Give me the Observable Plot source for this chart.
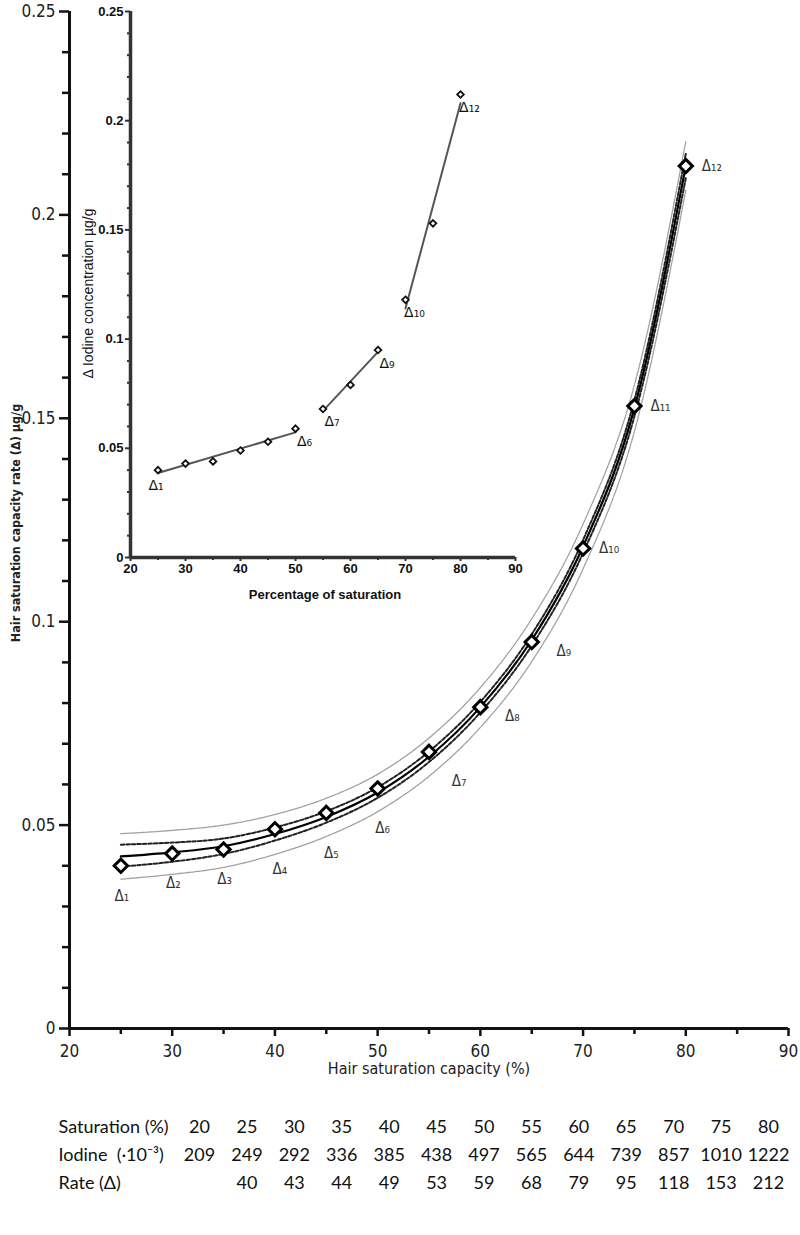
<!DOCTYPE html>
<html><head><meta charset="utf-8">
<script src="https://cdn.jsdelivr.net/npm/d3@7"></script>
<script src="https://cdn.jsdelivr.net/npm/@observablehq/plot@0.6"></script>
<style>
body{margin:0;background:#fff;}
#wrap{position:relative;width:800px;height:1235px;overflow:hidden;}
#main,#inset,#table{position:absolute;left:0;}
#main{top:0}
#inset{top:0}
#table{top:1090px}
</style></head><body><div id="wrap"><div id="main"></div><div id="inset"></div><div id="table"></div></div>
<script>
// ---------- data ----------
const pointX   = [25, 30, 35, 40, 45, 50, 55, 60, 65, 70, 75, 80];
const rate     = [0.040, 0.043, 0.044, 0.049, 0.053, 0.059, 0.068, 0.079, 0.095, 0.118, 0.153, 0.212];
const deltaLbl = ["Δ₁","Δ₂","Δ₃","Δ₄","Δ₅","Δ₆","Δ₇","Δ₈","Δ₉","Δ₁₀","Δ₁₁","Δ₁₂"];
const fitGroup = ["a","a","a","a","a","a","b","b","b","c","c","c"];
// fitted curve and bands
const fitted   = [0.0423, 0.0433, 0.0448, 0.0478, 0.0520, 0.0580, 0.0668, 0.0790, 0.0955, 0.1185, 0.1525, 0.2120];
const ciHi     = [0.0452, 0.0457, 0.0467, 0.0494, 0.0534, 0.0593, 0.0681, 0.0803, 0.0969, 0.1201, 0.1545, 0.2150];
const ciLo     = [0.0398, 0.0410, 0.0429, 0.0462, 0.0506, 0.0567, 0.0655, 0.0777, 0.0941, 0.1169, 0.1505, 0.2090];
const predHi   = [0.0479, 0.0487, 0.0500, 0.0526, 0.0566, 0.0625, 0.0714, 0.0838, 0.1007, 0.1240, 0.1582, 0.2180];
const predLo   = [0.0367, 0.0379, 0.0396, 0.0428, 0.0472, 0.0533, 0.0620, 0.0740, 0.0902, 0.1130, 0.1468, 0.2060];
// inset labelled points
const insetLabelled = ["Δ₁","Δ₆","Δ₇","Δ₉","Δ₁₀","Δ₁₂"];
// axis ticks
const yMajor = [0, 0.05, 0.1, 0.15, 0.2, 0.25];
const yMinor = [0.01,0.02,0.03,0.04,0.06,0.07,0.08,0.09,0.11,0.12,0.13,0.14,0.16,0.17,0.18,0.19,0.21,0.22,0.23,0.24];
const xMajor = [20, 30, 40, 50, 60, 70, 80, 90];
const xMinor = [25, 35, 45, 55, 65, 75, 85];
// table
const saturation = [20, 25, 30, 35, 40, 45, 50, 55, 60, 65, 70, 75, 80];
const iodine     = [209, 249, 292, 336, 385, 438, 497, 565, 644, 739, 857, 1010, 1222];
const rateMilli  = [null, 40, 43, 44, 49, 53, 59, 68, 79, 95, 118, 153, 212];
const rowNames   = ["Saturation (%)", "Iodine  (·10⁻³)", "Rate (Δ)"];

// ---------- build ----------
const pts = pointX.map((x, i) => ({x, y: rate[i], label: deltaLbl[i], g: fitGroup[i], i}));
const band = pointX.map((x, i) => ({x, fit: fitted[i], ciHi: ciHi[i], ciLo: ciLo[i], predHi: predHi[i], predLo: predLo[i]}));

const mainFont = "'DejaVu Sans Condensed','DejaVu Sans',sans-serif";
const insetFont = "'Liberation Sans',Arial,sans-serif";

function mainLabels(from, to, dx, dy) {
  return Plot.text(pts.filter(d => d.i >= from && d.i <= to), {
    x: "x", y: "y", text: "label", dx, dy, fontSize: 15, fill: "#333", fontFamily: mainFont, textAnchor: "middle"
  });
}

const main = Plot.plot({
  width: 800, height: 1090,
  marginLeft: 69, marginRight: 12, marginTop: 11, marginBottom: 62,
  style: {fontFamily: mainFont, background: "transparent", color: "#111", overflow: "visible"},
  x: {domain: [20, 90], axis: null},
  y: {domain: [0, 0.25], axis: null},
  marks: [
    Plot.axisY(yMajor, {tickSize: 10, tickPadding: 4, fontSize: 17, strokeWidth: 2.5, tickFormat: d => String(d), label: null, fill: "#222"}),
    Plot.axisY(yMinor, {tickSize: 7, tickFormat: () => "", strokeWidth: 2.5, label: null}),
    Plot.axisX(xMajor, {tickSize: 8, tickPadding: 8, fontSize: 17, strokeWidth: 2.5, tickFormat: d => String(d), label: null, fill: "#222"}),
    Plot.axisX(xMinor, {tickSize: 6, tickFormat: () => "", strokeWidth: 2.5, label: null}),
    Plot.ruleX([20], {y1: 0, y2: 0.25, stroke: "#111", strokeWidth: 3}),
    Plot.ruleY([0], {x1: 20, x2: 90, stroke: "#111", strokeWidth: 3}),
    Plot.line(band, {x: "x", y: "predHi", stroke: "#a0a0a0", strokeWidth: 1.3, strokeDasharray: "2,1", curve: "monotone-x"}),
    Plot.line(band, {x: "x", y: "predLo", stroke: "#a0a0a0", strokeWidth: 1.3, strokeDasharray: "2,1", curve: "monotone-x"}),
    Plot.line(band, {x: "x", y: "ciHi", stroke: "#222", strokeWidth: 2, strokeDasharray: "3.5,2", curve: "monotone-x"}),
    Plot.line(band, {x: "x", y: "ciLo", stroke: "#222", strokeWidth: 2, strokeDasharray: "3.5,2", curve: "monotone-x"}),
    Plot.line(band, {x: "x", y: "fit", stroke: "#000", strokeWidth: 2.2, curve: "monotone-x"}),
    Plot.dot(pts, {x: "x", y: "y", symbol: "diamond2", r: 6, stroke: "#000", strokeWidth: 3, fill: "#fff"}),
    mainLabels(0, 2, 1, 30),
    mainLabels(3, 5, 5, 40),
    mainLabels(6, 6, 30, 29),
    mainLabels(7, 8, 32, 9),
    mainLabels(9, 11, 26, 0),
    Plot.text(["Hair saturation capacity (%)"], {frameAnchor: "bottom", dy: 45, fontSize: 16, fill: "#222", fontFamily: mainFont}),
    Plot.text(["Hair saturation capacity rate (Δ) µg/g"], {frameAnchor: "left", textAnchor: "middle", rotate: -90, dx: -54, dy: 3, fontSize: 12.5, fontWeight: "bold", fill: "#222", fontFamily: mainFont})
  ]
});
document.getElementById("main").append(main);

const insetPts = pts.filter(d => insetLabelled.includes(d.label));
const inset = Plot.plot({
  width: 540, height: 610,
  marginLeft: 130, marginRight: 25, marginTop: 11, marginBottom: 53,
  style: {fontFamily: insetFont, background: "transparent", color: "#333", overflow: "visible"},
  x: {domain: [20, 90], axis: null},
  y: {domain: [0, 0.25], axis: null},
  marks: [
    Plot.axisY(yMajor, {tickSize: 5, tickPadding: 2, fontSize: 13, fontWeight: "bold", fill: "#111", strokeWidth: 2, tickFormat: d => String(d), label: null}),
    Plot.axisY(yMinor, {tickSize: 3, tickFormat: () => "", strokeWidth: 2, label: null}),
    Plot.axisX(xMajor, {tickSize: 4, tickPadding: 2, fontSize: 13, fontWeight: "bold", fill: "#111", strokeWidth: 2, tickFormat: d => String(d), label: null}),
    Plot.axisX(xMinor, {tickSize: 3, tickFormat: () => "", strokeWidth: 2, label: null}),
    Plot.ruleX([20], {y1: 0, y2: 0.25, stroke: "#333", strokeWidth: 3.5}),
    Plot.ruleY([0], {x1: 20, x2: 90, stroke: "#333", strokeWidth: 3.5}),
    Plot.linearRegressionY(pts, {x: "x", y: "y", z: "g", stroke: "#555", strokeWidth: 2, ci: 0}),
    Plot.dot(pts, {x: "x", y: "y", symbol: "diamond2", r: 3, stroke: "#111", strokeWidth: 1.8, fill: "#fff"}),
    Plot.text(insetPts.filter(d => d.i === 0), {x: "x", y: "y", text: "label", dx: -2, dy: 15, fontSize: 14, fill: "#111", fontFamily: "'DejaVu Sans',sans-serif"}),
    Plot.text(insetPts.filter(d => d.i !== 0), {x: "x", y: "y", text: "label", dx: 9, dy: 13, fontSize: 14, fill: "#111", fontFamily: "'DejaVu Sans',sans-serif"}),
    Plot.text(["Percentage of saturation"], {frameAnchor: "bottom", dx: 2, dy: 41, fontSize: 13, fontWeight: "bold", fill: "#111"}),
    Plot.text(["Δ Iodine concentration µg/g"], {frameAnchor: "left", textAnchor: "middle", rotate: -90, dx: -42, dy: 9, fontSize: 14, fill: "#111"})
  ]
});
document.getElementById("inset").append(inset);

const tableData = [];
saturation.forEach((s, i) => {
  tableData.push({col: s, row: rowNames[0], text: String(s)});
  tableData.push({col: s, row: rowNames[1], text: String(iodine[i])});
  if (rateMilli[i] != null) tableData.push({col: s, row: rowNames[2], text: String(rateMilli[i])});
});
const table = Plot.plot({
  width: 800, height: 145,
  marginLeft: 199, marginRight: 32, marginTop: 0, marginBottom: 0,
  style: {fontFamily: "Lato,'Open Sans',sans-serif", background: "transparent", color: "#111"},
  x: {domain: [20, 80], axis: null},
  y: {type: "point", domain: rowNames, range: [22, 107], axis: null},
  marks: [
    Plot.text(tableData, {x: "col", y: "row", text: "text", fontSize: 18, fill: "#111"}),
    Plot.text(rowNames, {frameAnchor: "left", y: d => d, text: d => d, textAnchor: "start", dx: -141, fontSize: 18, fill: "#111"})
  ]
});
document.getElementById("table").append(table);
</script></body></html>
